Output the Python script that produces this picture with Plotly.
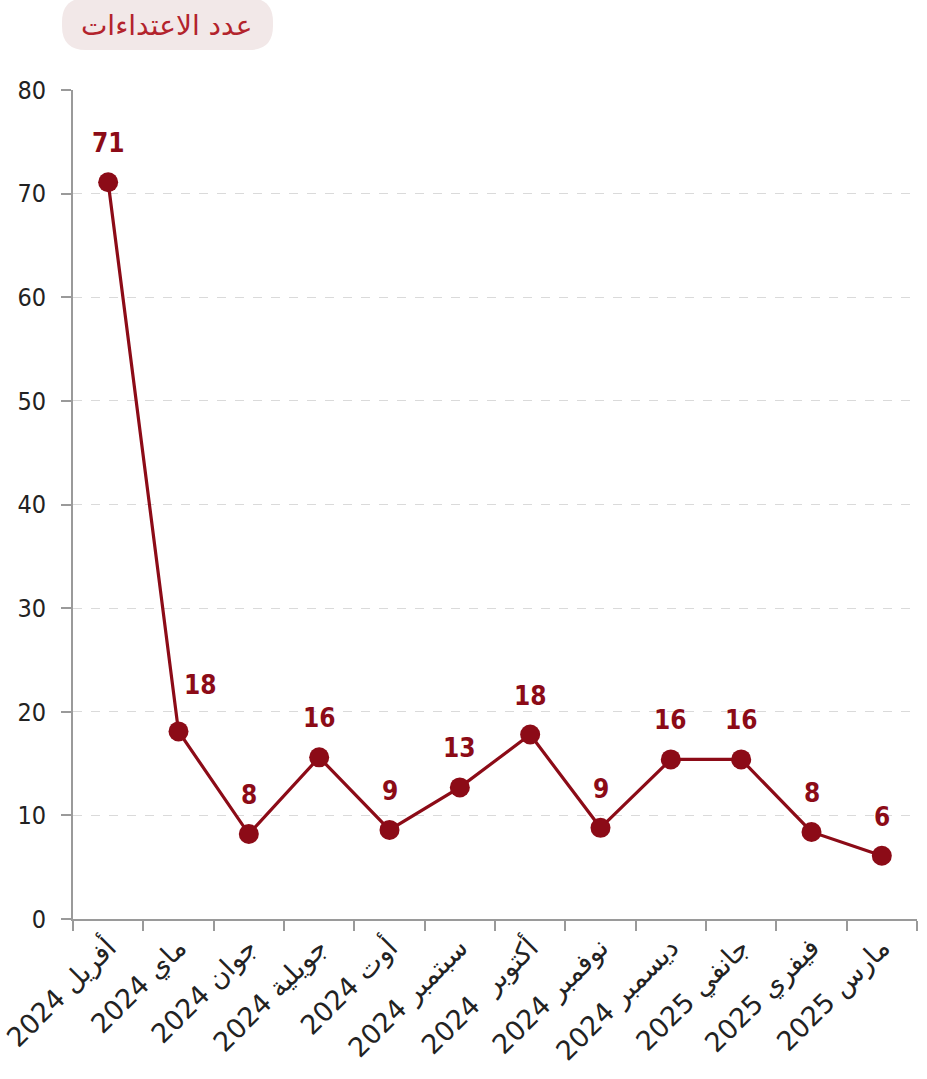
import plotly.graph_objects as go

months = ["2024 أفريل", "2024 ماي", "2024 جوان", "2024 جويلية", "2024 أوت", "2024 سبتمبر",
          "2024  أكتوبر", "2024 نوفمبر", "2024 ديسمبر", "2025 جانفي", "2025 فيفري", "2025 مارس"]
values = [71.1, 18.1, 8.2, 15.6, 8.6, 12.7, 17.8, 8.8, 15.4, 15.4, 8.4, 6.1]
labels = ["71", "18", "8", "16", "9", "13", "18", "9", "16", "16", "8", "6"]
y_ticks = [0, 10, 20, 30, 40, 50, 60, 70, 80]
title_text = "عدد الاعتداءات"

RED = "#8c0b17"
W, H = 927, 1079
L, R, T, B = 73, 10, 90, 160
pw, ph = W - L - R, H - T - B

fig = go.Figure()
fig.add_trace(go.Scatter(
    x=months, y=values, mode="lines+markers",
    line=dict(color=RED, width=3.2),
    marker=dict(color=RED, size=20),
    hoverinfo="skip", showlegend=False,
))

for i, (m, v, t) in enumerate(zip(months, values, labels)):
    xs, ys = (22, 46) if i == 1 else (0, 39)
    fig.add_annotation(x=m, y=v, text=t, showarrow=False, xshift=xs, yshift=ys,
                       font=dict(family="DejaVu Sans Condensed, Roboto, sans-serif",
                                 size=26, color=RED, weight="bold"))

# title pill (rounded rectangle) in paper coordinates
def px2paper(px, py):
    return (px - L) / pw, (H - B - py) / ph

x0p, y0p, x1p, y1p, r = 62, -2, 273, 50, 24
def P(px, py):
    a, b = px2paper(px, py)
    return f"{a:.5f},{b:.5f}"
path = (f"M {P(x0p + r, y0p)} L {P(x1p - r, y0p)} Q {P(x1p, y0p)} {P(x1p, y0p + r)} "
        f"L {P(x1p, y1p - r)} Q {P(x1p, y1p)} {P(x1p - r, y1p)} "
        f"L {P(x0p + r, y1p)} Q {P(x0p, y1p)} {P(x0p, y1p - r)} "
        f"L {P(x0p, y0p + r)} Q {P(x0p, y0p)} {P(x0p + r, y0p)} Z")
fig.add_shape(type="path", path=path, xref="paper", yref="paper",
              fillcolor="#f2e8e8", line=dict(width=0), layer="below")
cx, cy = px2paper(166, 25)
fig.add_annotation(x=cx, y=cy, xref="paper", yref="paper", text=title_text, showarrow=False,
                   font=dict(family="DejaVu Sans, sans-serif", size=28, color="#b3232c"),
                   xanchor="center", yanchor="middle")

fig.update_layout(
    width=W, height=H,
    margin=dict(l=L, r=R, t=T, b=B, autoexpand=False),
    paper_bgcolor="white", plot_bgcolor="white",
    xaxis=dict(
        type="category", range=[-0.5, 11.5], tickangle=-45,
        tickson="boundaries", ticks="outside", ticklen=10, tickcolor="#9a9a9a", tickwidth=2,
        showline=True, linecolor="#9a9a9a", linewidth=2, showgrid=False,
        tickfont=dict(family="DejaVu Sans, sans-serif", size=27, color="#222222"),
    ),
    yaxis=dict(
        range=[0, 80], tickvals=y_ticks, ticks="outside", ticklen=10,
        tickcolor="#9a9a9a", tickwidth=2, showline=True, linecolor="#9a9a9a", linewidth=2,
        showgrid=True, gridcolor="#dadada", griddash="dash", gridwidth=1,
        zeroline=False, ticklabelstandoff=10,
        tickfont=dict(family="DejaVu Sans Condensed, Roboto, sans-serif", size=25, color="#222222"),
    ),
)

fig.write_html("out.html")
